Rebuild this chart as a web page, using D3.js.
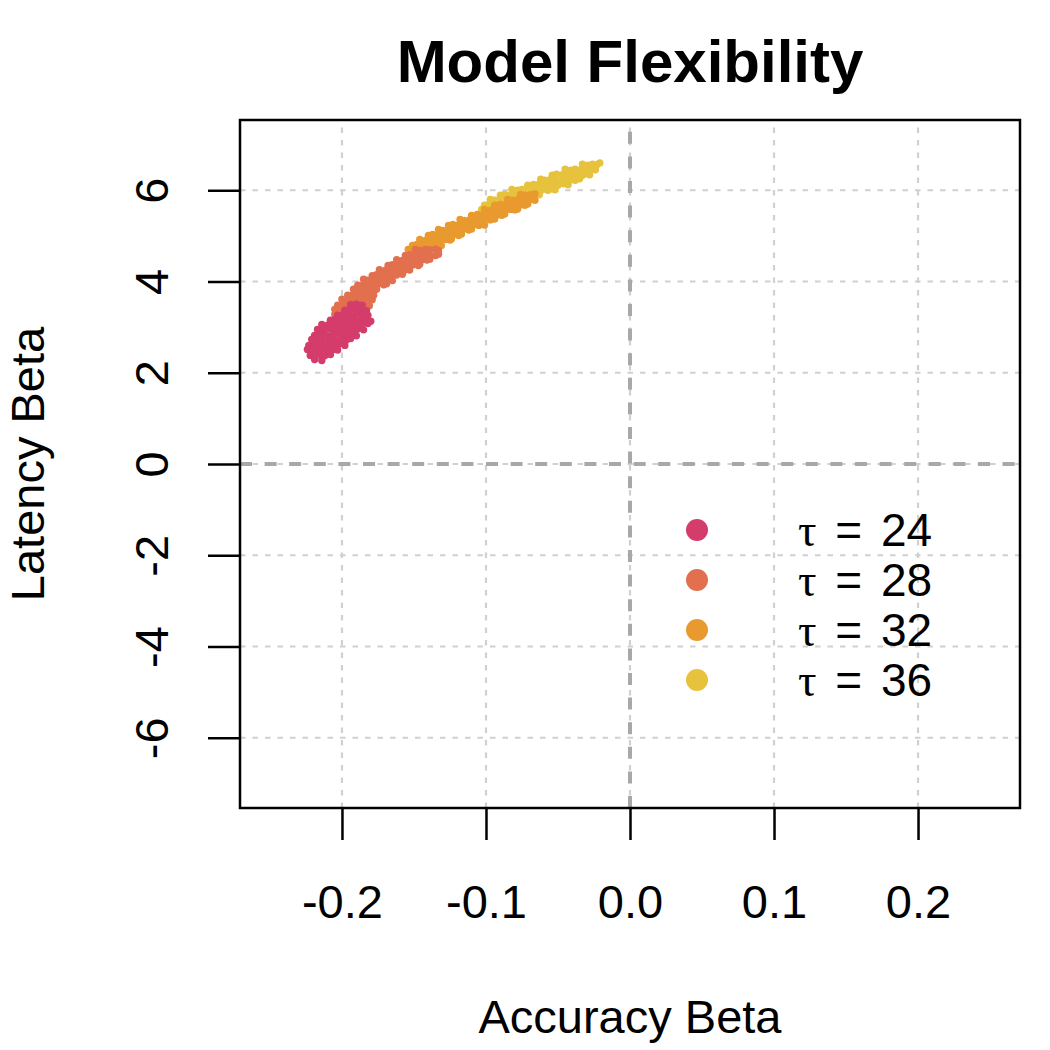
<!DOCTYPE html>
<html lang="en">
<head>
    <meta charset="UTF-8">
    <title>Model Flexibility</title>
    <script src="https://d3js.org/d3.v7.min.js"></script>
    <style>
        body { margin: 0; background: #fff; }
        text { font-family: "Liberation Sans", Arial, sans-serif; fill: #000; }
    </style>
</head>
<body>
<div id="chart"></div>
<script>
    // ---- data ----
    const xTicks = [-0.2, -0.1, 0.0, 0.1, 0.2];
    const yTicks = [-6, -4, -2, 0, 2, 4, 6];
    const tauLabels = ["24", "28", "32", "36"];
    const tauColors = ["#D43C6B", "#E2704E", "#E99A2F", "#E7C23C"];

    // posterior samples, [accuracy beta, latency beta]
    const tau24 = [
        [-0.194,3.49],[-0.190,3.50],[-0.186,3.48],
        [-0.198,3.37],[-0.194,3.39],[-0.190,3.38],[-0.187,3.40],[-0.183,3.36],
        [-0.203,3.26],[-0.199,3.28],[-0.195,3.27],[-0.192,3.25],[-0.188,3.29],[-0.185,3.27],[-0.182,3.26],
        [-0.208,3.15],[-0.205,3.17],[-0.201,3.16],[-0.198,3.14],[-0.194,3.18],[-0.191,3.16],[-0.187,3.15],[-0.184,3.17],[-0.180,3.13],
        [-0.214,3.06],[-0.210,3.04],[-0.207,3.06],[-0.203,3.05],[-0.200,3.03],[-0.196,3.07],[-0.193,3.05],[-0.189,3.04],[-0.186,3.06],[-0.182,3.08],
        [-0.217,2.95],[-0.213,2.93],[-0.210,2.96],[-0.206,2.94],[-0.203,2.92],[-0.199,2.95],[-0.196,2.94],[-0.192,2.93],[-0.189,2.96],[-0.185,2.94],
        [-0.219,2.82],[-0.215,2.84],[-0.212,2.83],[-0.208,2.81],[-0.205,2.85],[-0.201,2.83],[-0.198,2.82],[-0.194,2.84],[-0.190,2.81],
        [-0.221,2.73],[-0.218,2.71],[-0.214,2.72],[-0.211,2.74],[-0.207,2.72],[-0.204,2.70],[-0.200,2.73],[-0.197,2.72],[-0.194,2.75],
        [-0.223,2.60],[-0.219,2.62],[-0.216,2.61],[-0.212,2.59],[-0.209,2.62],[-0.205,2.61],[-0.202,2.63],[-0.198,2.60],
        [-0.224,2.51],[-0.220,2.49],[-0.217,2.50],[-0.213,2.52],[-0.210,2.49],[-0.206,2.51],[-0.203,2.50],
        [-0.222,2.38],[-0.219,2.40],[-0.215,2.39],[-0.212,2.37],[-0.208,2.40],
        [-0.219,2.29],[-0.214,2.27]
    ];

    const tau28 = [
        [-0.149,4.70],[-0.146,4.68],[-0.142,4.70],[-0.139,4.69],[-0.135,4.71],[-0.133,4.68],
        [-0.156,4.57],[-0.153,4.59],[-0.149,4.58],[-0.146,4.56],[-0.142,4.59],[-0.139,4.58],[-0.135,4.57],[-0.133,4.60],
        [-0.162,4.48],[-0.158,4.46],[-0.155,4.48],[-0.151,4.47],[-0.148,4.45],[-0.144,4.48],[-0.141,4.47],[-0.139,4.49],
        [-0.168,4.35],[-0.165,4.37],[-0.161,4.36],[-0.158,4.34],[-0.154,4.37],[-0.151,4.36],[-0.147,4.35],[-0.146,4.38],
        [-0.174,4.26],[-0.170,4.24],[-0.167,4.26],[-0.163,4.25],[-0.160,4.23],[-0.156,4.26],[-0.153,4.25],
        [-0.179,4.13],[-0.176,4.15],[-0.172,4.14],[-0.169,4.12],[-0.165,4.15],[-0.162,4.14],[-0.158,4.16],
        [-0.185,4.05],[-0.182,4.03],[-0.178,4.04],[-0.175,4.06],[-0.171,4.03],[-0.168,4.04],[-0.165,4.02],
        [-0.189,3.92],[-0.185,3.94],[-0.182,3.93],[-0.178,3.91],[-0.175,3.94],[-0.171,3.93],[-0.169,3.95],
        [-0.192,3.83],[-0.189,3.81],[-0.185,3.82],[-0.182,3.84],[-0.178,3.81],[-0.176,3.83],
        [-0.196,3.70],[-0.192,3.72],[-0.189,3.71],[-0.185,3.69],[-0.182,3.72],[-0.178,3.70],
        [-0.200,3.61],[-0.197,3.59],[-0.193,3.60],[-0.190,3.62],[-0.186,3.59],[-0.183,3.61],[-0.179,3.60],
        [-0.203,3.48],[-0.199,3.50],[-0.196,3.49],[-0.192,3.47],[-0.189,3.50],[-0.185,3.49],[-0.181,3.47],
        [-0.205,3.39],[-0.201,3.37],[-0.197,3.38],[-0.190,3.36],[-0.184,3.39],
        [-0.205,3.28],[-0.199,3.26]
    ];

    const tau32 = [
        [-0.076,5.91],[-0.073,5.89],[-0.069,5.90],[-0.066,5.92],
        [-0.085,5.80],[-0.082,5.78],[-0.078,5.80],[-0.075,5.79],[-0.071,5.77],[-0.068,5.80],[-0.066,5.78],
        [-0.094,5.67],[-0.090,5.69],[-0.087,5.68],[-0.083,5.66],[-0.080,5.69],[-0.076,5.68],[-0.073,5.67],[-0.071,5.70],
        [-0.101,5.58],[-0.097,5.56],[-0.094,5.58],[-0.090,5.57],[-0.087,5.55],[-0.083,5.58],[-0.080,5.57],[-0.078,5.59],
        [-0.110,5.45],[-0.106,5.47],[-0.103,5.46],[-0.099,5.44],[-0.096,5.47],[-0.092,5.46],[-0.089,5.45],[-0.087,5.48],
        [-0.118,5.36],[-0.115,5.34],[-0.111,5.36],[-0.108,5.35],[-0.104,5.33],[-0.101,5.36],[-0.097,5.35],[-0.094,5.37],
        [-0.126,5.23],[-0.123,5.25],[-0.119,5.24],[-0.116,5.22],[-0.112,5.25],[-0.109,5.24],[-0.105,5.23],[-0.102,5.26],[-0.101,5.24],
        [-0.133,5.14],[-0.130,5.12],[-0.126,5.14],[-0.123,5.13],[-0.119,5.11],[-0.116,5.14],[-0.112,5.13],[-0.110,5.15],
        [-0.140,5.01],[-0.137,5.03],[-0.133,5.02],[-0.130,5.00],[-0.126,5.03],[-0.123,5.02],[-0.119,5.01],[-0.117,5.04],
        [-0.146,4.92],[-0.142,4.90],[-0.139,4.92],[-0.135,4.91],[-0.132,4.89],[-0.128,4.92],[-0.125,4.91],[-0.124,4.93],
        [-0.151,4.79],[-0.148,4.81],[-0.144,4.80],[-0.141,4.78],[-0.137,4.81],[-0.134,4.80],[-0.131,4.79],
        [-0.154,4.70],[-0.151,4.68],[-0.147,4.70],[-0.143,4.69]
    ];

    const tau36 = [
        [-0.021,6.60],
        [-0.033,6.57],[-0.029,6.55],[-0.026,6.57],[-0.023,6.56],
        [-0.045,6.46],[-0.041,6.44],[-0.038,6.46],[-0.034,6.45],[-0.031,6.43],[-0.027,6.46],[-0.024,6.45],
        [-0.054,6.33],[-0.051,6.35],[-0.047,6.34],[-0.044,6.32],[-0.040,6.35],[-0.037,6.34],[-0.033,6.33],[-0.030,6.36],[-0.028,6.34],
        [-0.062,6.24],[-0.059,6.22],[-0.055,6.24],[-0.052,6.23],[-0.048,6.21],[-0.045,6.24],[-0.041,6.23],[-0.038,6.22],[-0.035,6.25],
        [-0.071,6.11],[-0.067,6.13],[-0.064,6.12],[-0.060,6.10],[-0.057,6.13],[-0.053,6.12],[-0.050,6.11],[-0.046,6.14],[-0.043,6.12],
        [-0.082,6.02],[-0.078,6.00],[-0.075,6.02],[-0.071,6.01],[-0.068,5.99],[-0.064,6.02],[-0.061,6.01],[-0.057,6.00],[-0.054,6.03],[-0.052,6.01],
        [-0.090,5.89],[-0.087,5.91],[-0.083,5.90],[-0.080,5.88],[-0.076,5.91],[-0.073,5.90],[-0.069,5.89],[-0.066,5.92],[-0.063,5.90],
        [-0.097,5.80],[-0.094,5.78],[-0.090,5.80],[-0.087,5.79],[-0.083,5.77],[-0.080,5.80],[-0.077,5.79],
        [-0.101,5.67],[-0.098,5.69],[-0.094,5.68],[-0.091,5.66],[-0.087,5.69],
        [-0.103,5.58],[-0.099,5.56],[-0.096,5.58]
    ];

    const series = [tau24, tau28, tau32, tau36];

    // ---- layout ----
    const width = 1050, height = 1050;
    const plot = { left: 240, right: 1020, top: 120, bottom: 808 };

    const x = d3.scaleLinear().domain([-0.2708, 0.2708]).range([plot.left, plot.right]);
    const y = d3.scaleLinear().domain([-7.54, 7.54]).range([plot.bottom, plot.top]);

    const svg = d3.select("#chart").append("svg")
        .attr("width", width)
        .attr("height", height);

    // light dotted grid (drawn like R's abline: v from bottom, h from left)
    const grid = svg.append("g")
        .attr("stroke", "#D0D0D0")
        .attr("stroke-width", 2.2)
        .attr("stroke-dasharray", "5.5,7");

    grid.selectAll("line.v").data(xTicks).enter().append("line")
        .attr("x1", d => x(d)).attr("x2", d => x(d))
        .attr("y1", plot.bottom).attr("y2", plot.top);

    grid.selectAll("line.h").data(yTicks).enter().append("line")
        .attr("x1", plot.left).attr("x2", plot.right)
        .attr("y1", d => y(d)).attr("y2", d => y(d));

    // zero reference lines
    const zero = svg.append("g")
        .attr("stroke", "#A8A8A8")
        .attr("stroke-width", 4)
        .attr("stroke-dasharray", "12,12.6");

    zero.append("line")
        .attr("x1", x(0)).attr("x2", x(0))
        .attr("y1", plot.bottom).attr("y2", plot.top);
    zero.append("line")
        .attr("x1", plot.left).attr("x2", plot.right)
        .attr("y1", y(0)).attr("y2", y(0));

    // points, last tau first so tau = 24 ends up on top
    const pts = svg.append("g");
    [3, 2, 1, 0].forEach(i => {
        pts.append("g")
            .attr("fill", tauColors[i])
            .selectAll("circle")
            .data(series[i])
            .enter().append("circle")
            .attr("cx", d => x(d[0]))
            .attr("cy", d => y(d[1]))
            .attr("r", 3.7);
    });

    // box
    svg.append("rect")
        .attr("x", plot.left).attr("y", plot.top)
        .attr("width", plot.right - plot.left)
        .attr("height", plot.bottom - plot.top)
        .attr("fill", "none")
        .attr("stroke", "#000")
        .attr("stroke-width", 2.5);

    // axes
    const xAxis = svg.append("g")
        .attr("transform", `translate(0,${plot.bottom})`)
        .call(d3.axisBottom(x).tickValues(xTicks).tickSize(32).tickFormat(d => d.toFixed(1)));
    xAxis.select(".domain").remove();
    xAxis.selectAll("line").attr("stroke-width", 2.5);
    xAxis.selectAll("text")
        .attr("y", 110).attr("dy", null)
        .attr("font-size", 47)
        .style("font-family", '"Liberation Sans", Arial, sans-serif');

    const yAxis = svg.append("g")
        .attr("transform", `translate(${plot.left},0)`)
        .call(d3.axisLeft(y).tickValues(yTicks).tickSize(32).tickFormat(d => String(d)));
    yAxis.select(".domain").remove();
    yAxis.selectAll("line").attr("stroke-width", 2.5);
    yAxis.selectAll("text")
        .attr("x", null).attr("dy", null)
        .attr("text-anchor", "middle")
        .attr("transform", "translate(-72,0) rotate(-90)")
        .attr("font-size", 47)
        .style("font-family", '"Liberation Sans", Arial, sans-serif');

    // titles
    svg.append("text")
        .attr("x", (plot.left + plot.right) / 2).attr("y", 82)
        .attr("text-anchor", "middle")
        .attr("font-size", 60)
        .attr("font-weight", "bold")
        .text("Model Flexibility");

    svg.append("text")
        .attr("x", (plot.left + plot.right) / 2).attr("y", 1033)
        .attr("text-anchor", "middle")
        .attr("font-size", 47)
        .text("Accuracy Beta");

    svg.append("text")
        .attr("transform", `translate(44,${(plot.top + plot.bottom) / 2}) rotate(-90)`)
        .attr("text-anchor", "middle")
        .attr("font-size", 47)
        .text("Latency Beta");

    // legend
    const legend = svg.append("g").attr("transform", "translate(697,530)");
    tauLabels.forEach((lab, i) => {
        const row = legend.append("g").attr("transform", `translate(0,${i * 50})`);
        row.append("circle").attr("r", 11).attr("fill", tauColors[i]);
        const t = row.append("text")
            .attr("x", 101).attr("y", 16)
            .attr("font-size", 46)
            .style("word-spacing", "6px");
        t.append("tspan").style("font-family", '"Liberation Serif", serif').text("\u03c4");
        t.append("tspan").text(" = " + lab);
    });
</script>
</body>
</html>
